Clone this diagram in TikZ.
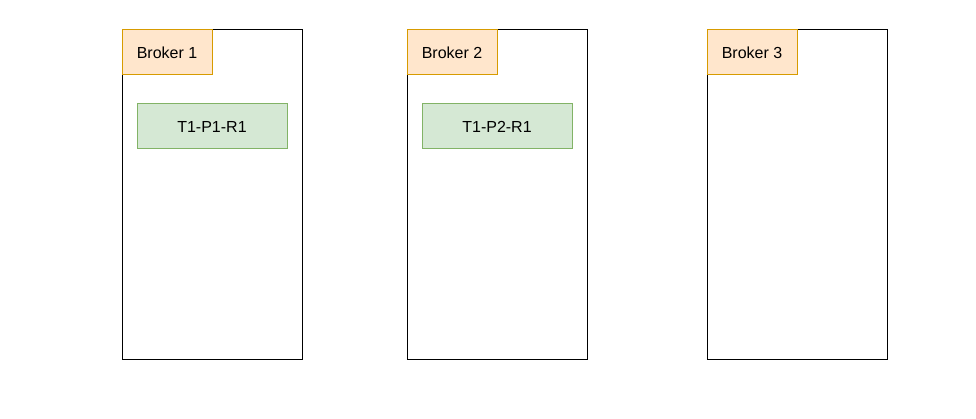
\documentclass[tikz,border=0pt]{standalone}
\usepackage{fontspec}
\setmainfont{Liberation Sans}
\definecolor{obg}{HTML}{FFE6CC}\definecolor{obd}{HTML}{D79B00}
\definecolor{gbg}{HTML}{D5E8D4}\definecolor{gbd}{HTML}{82B366}
\begin{document}
\begin{tikzpicture}[x=1pt,y=-1pt,
  broker/.style={draw=black,line width=1pt},
  lbl/.style={draw=obd,fill=obg,line width=1pt},
  rep/.style={draw=gbd,fill=gbg,line width=1pt}]
\useasboundingbox (0,0) rectangle (976,419);
\foreach \n/\x in {1/122,2/407,3/707}{
  \draw[broker] (\x,30) rectangle (\x+180,359);
  \draw[lbl] (\x,30) rectangle (\x+90,75);
  \node[font=\fontsize{16}{19}\selectfont] (b\n) at (\x+45,52.5) {Broker \n};
}
\draw[rep] (137,104) rectangle (287,149);
\node[font=\fontsize{16}{19}\selectfont] (r1) at (212,126.5) {T1-P1-R1};
\draw[rep] (422,104) rectangle (572,149);
\node[font=\fontsize{16}{19}\selectfont] (r2) at (497,126.5) {T1-P2-R1};
\end{tikzpicture}
\end{document}
